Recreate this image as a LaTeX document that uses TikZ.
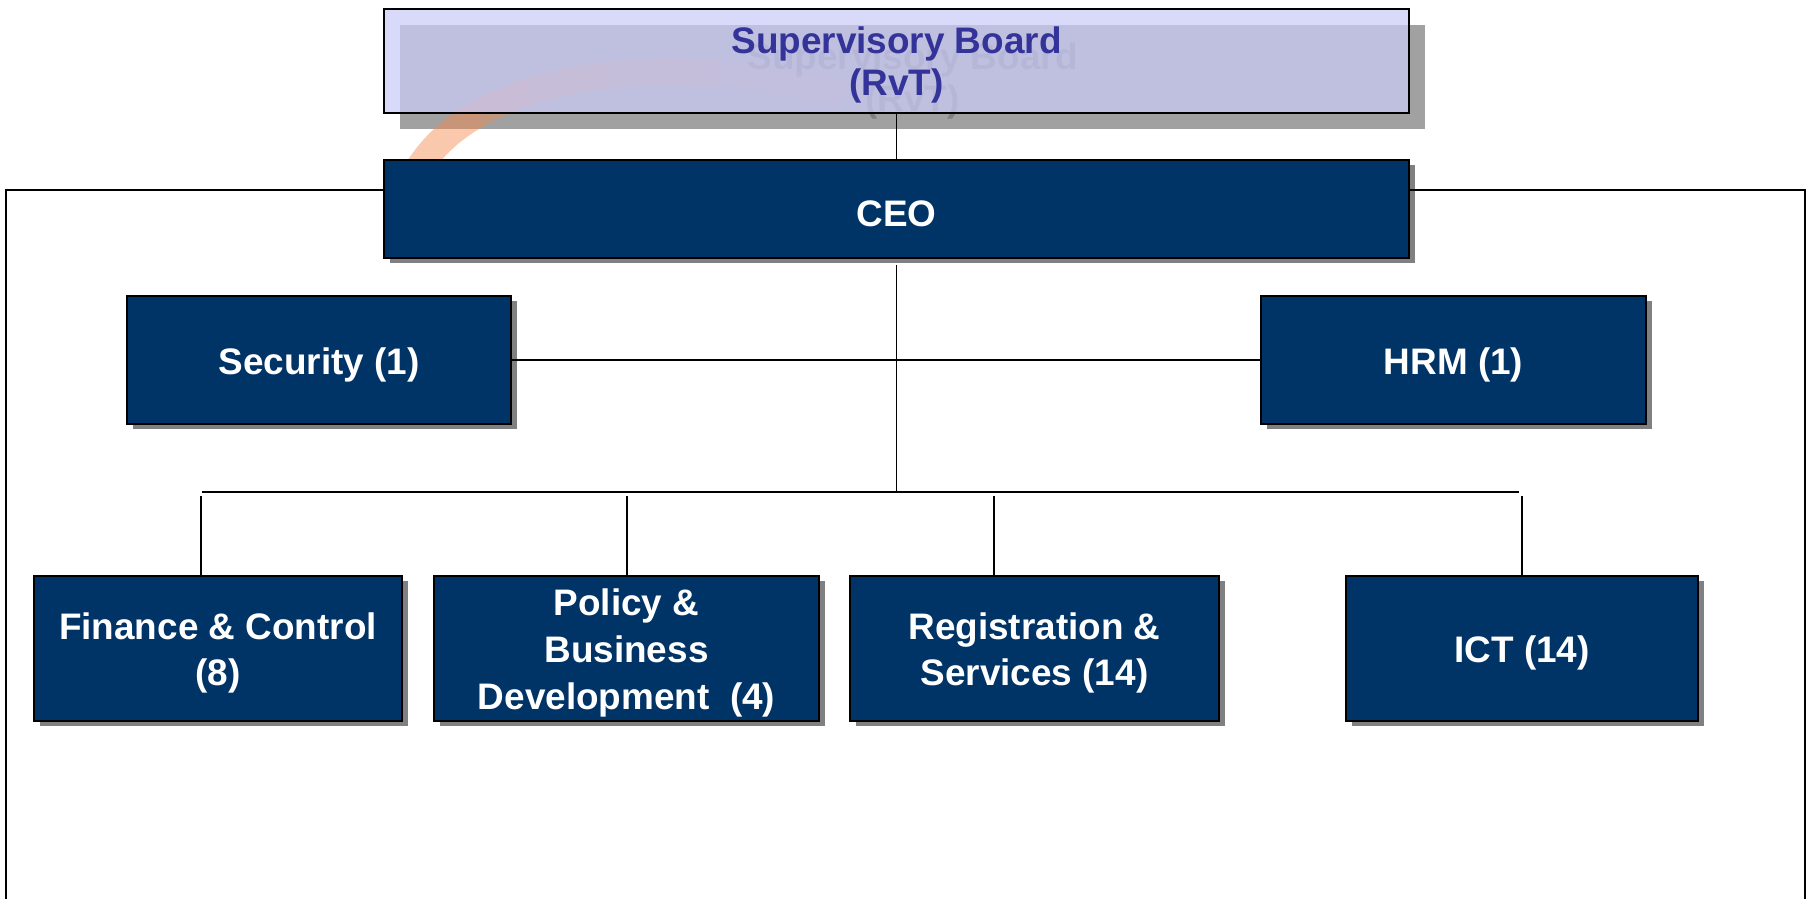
\documentclass[tikz,border=0pt]{standalone}
\usepackage{fontspec}
\setmainfont{Liberation Sans}
\usetikzlibrary{calc,shadows,backgrounds}
\definecolor{unitblue}{RGB}{0,51,102}
\definecolor{boardfill}{RGB}{203,203,248}
\definecolor{boardtext}{RGB}{51,51,153}
\definecolor{swooshorange}{RGB}{245,140,80}
\tikzset{
  unittext/.style={text=white, font=\fontsize{10.5}{13.3}\selectfont\bfseries,
    align=center, inner sep=0pt, yshift=-0.045cm},
  unit/.style={draw=black, line width=0.6pt, fill=unitblue,
    inner sep=0pt, outer sep=0pt,
    drop shadow={shadow xshift=0.06cm, shadow yshift=-0.05cm, fill=black!50, opacity=1},
    label={[unittext]center:{#1}}},
  boardtext/.style={text=boardtext, font=\fontsize{10.5}{12.2}\selectfont\bfseries,
    align=center, inner sep=0pt, yshift=-0.04cm},
  board/.style={draw=black, line width=0.6pt, fill=boardfill, fill opacity=0.73,
    inner sep=0pt, outer sep=0pt,
    label={[boardtext]center:{#1}}},
  link/.style={line width=0.5pt},
  swoosh/.style={line width=0.27cm, draw=swooshorange, opacity=0.12},
  declare function={
    swx(\t)=(1-\t)^3*4.15+3*(1-\t)^2*\t*4.6+3*(1-\t)*\t^2*6.2+\t^3*8.45;
    swy(\t)=-(1-\t)^3*1.75-3*(1-\t)^2*\t*0.9-3*(1-\t)*\t^2*0.4-\t^3*0.95;
  }
}

\begin{document}
\begin{tikzpicture}
      \useasboundingbox (0,0) rectangle (18.14,-8.99);
      \node[board={Supervisory Board\\(RvT)}, minimum width=10.25cm, minimum height=1.04cm] (sup) at (8.965,-0.61) {};
      \begin{pgfonlayer}{background}
        \fill[black!37] ($(sup.south west)+(0.16,-0.16)$) rectangle ($(sup.north east)+(0.16,-0.16)$);
        \node[text=black!50, font=\fontsize{10.5}{12.2}\selectfont\bfseries, align=center, inner sep=0pt] (supghost) at ($(sup.center)+(0.16,-0.20)$) {Supervisory Board\\(RvT)};
        \foreach \e in {1,0.8,0.6,0.42,0.28}
          \draw[swoosh] plot[domain=0:\e, samples=40, variable=\t] ({swx(\t)},{swy(\t)});
      \end{pgfonlayer}
      \node[unit={CEO}, minimum width=10.25cm, minimum height=0.98cm] (ceo) at (8.965,-2.09) {};
      \node[unit={Security (1)}, minimum width=3.84cm, minimum height=1.28cm] (sec) at (3.19,-3.60) {};
      \node[unit={HRM (1)}, minimum width=3.85cm, minimum height=1.28cm] (hrm) at (14.535,-3.60) {};
      \node[unit={Finance \& Control\\(8)}, minimum width=3.68cm, minimum height=1.45cm] (fin) at (2.18,-6.485) {};
      \node[unit={Policy \&\\Business\\Development\ \ (4)}, minimum width=3.85cm, minimum height=1.45cm] (pol) at (6.265,-6.485) {};
      \node[unit={Registration \&\\Services (14)}, minimum width=3.69cm, minimum height=1.45cm] (reg) at (10.345,-6.485) {};
      \node[unit={ICT (14)}, minimum width=3.52cm, minimum height=1.45cm] (ict) at (15.22,-6.485) {};
      \coordinate (ftop) at (0,-1.90);
      \coordinate (fl) at (0.06,-8.99);
      \coordinate (fr) at (18.05,-8.99);
      \coordinate (busl) at (2.02,-4.92);
      \coordinate (busr) at (15.19,-4.92);
      \coordinate (d1) at (2.01,-4.96);
      \coordinate (d2) at (6.27,-4.96);
      \coordinate (d3) at (9.94,-4.96);
      \coordinate (d4) at (15.22,-4.96);
      \draw[link] (sup.south) -- (ceo.north);
      \draw[link] (ceo.west |- ftop) -- (fl |- ftop) -- (fl);
      \draw[link] (ceo.east |- ftop) -- (fr |- ftop) -- (fr);
      \draw[link] (sec.east) -- (hrm.west);
      \draw[link] (ceo.south) ++(0,-0.07) -- (ceo.south |- busl);
      \draw[link] (busl) -- (busr);
      \draw[link] (d1) -- (d1 |- fin.north);
      \draw[link] (d2) -- (d2 |- pol.north);
      \draw[link] (d3) -- (d3 |- reg.north);
      \draw[link] (d4) -- (d4 |- ict.north);
    \end{tikzpicture}
\end{document}
